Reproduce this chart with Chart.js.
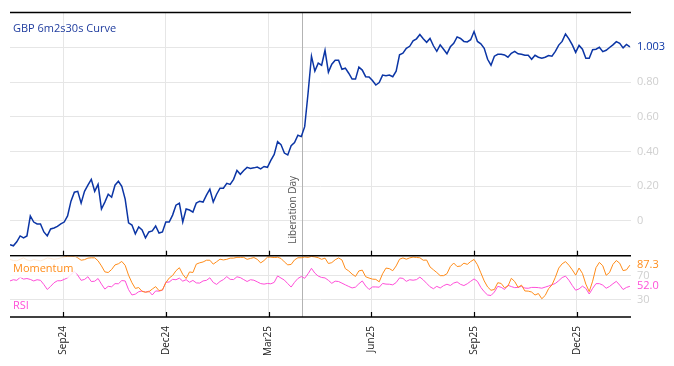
<!DOCTYPE html>
<html><head><meta charset="utf-8">
<script src="https://cdn.jsdelivr.net/npm/chart.js@4/dist/chart.umd.min.js"></script>
<style>html,body{margin:0;padding:0;background:#fff}#wrap{width:674px;height:366px}</style>
</head><body><div id="wrap"><canvas id="c" width="674" height="366"></canvas></div>
<script>
// ---- data ----
const START_DATE = '2024-07-17';
const STEP_DAYS = 3;
const seriesNames = ['GBP 6m2s30s Curve', 'Momentum', 'RSI'];
const curve = [
-0.137,-0.143,-0.120,-0.086,-0.097,-0.086,0.029,-0.006,-0.017,-0.017,
-0.063,-0.086,-0.046,-0.040,-0.031,-0.017,-0.006,0.029,0.114,0.166,
0.171,0.103,0.171,0.206,0.240,0.171,0.211,0.069,0.109,0.154,
0.137,0.206,0.229,0.200,0.126,-0.011,-0.023,-0.074,-0.034,-0.051,
-0.097,-0.063,-0.057,-0.029,-0.069,-0.063,-0.006,-0.006,0.034,0.091,
0.103,-0.006,0.069,0.063,0.051,0.103,0.114,0.109,0.149,0.183,
0.109,0.154,0.189,0.189,0.217,0.211,0.240,0.291,0.269,0.291,
0.309,0.303,0.306,0.311,0.300,0.314,0.309,0.349,0.383,0.457,
0.440,0.391,0.380,0.433,0.451,0.494,0.486,0.543,0.737,0.949,
0.863,0.909,0.897,0.983,0.857,0.903,0.926,0.926,0.874,0.880,
0.851,0.817,0.817,0.886,0.869,0.831,0.829,0.809,0.783,0.797,
0.840,0.837,0.840,0.831,0.863,0.957,0.966,0.994,1.006,1.037,
1.049,1.074,1.049,1.029,1.051,1.009,0.977,1.014,0.989,0.963,
1.003,1.023,1.060,1.051,1.034,1.031,1.044,1.091,1.034,1.020,
0.994,0.931,0.897,0.949,0.960,0.960,0.956,0.943,0.966,0.977,
0.963,0.960,0.954,0.954,0.931,0.954,0.943,0.937,0.943,0.953,
0.949,0.977,1.013,1.034,1.077,1.049,1.014,0.971,1.011,0.989,
0.937,0.937,0.986,0.989,1.000,0.975,0.983,0.999,1.014,1.033,
1.023,0.997,1.017,1.003];
const momentum = [
96.8,95,94.5,97,99.6,96,94.5,96.5,95.5,94.5,
96.5,99.3,98.5,97,98,99.4,101,102,102,101.5,
99.5,95.5,96.5,99,99.5,99.5,94.5,86,76.1,75,
80,87.7,89.6,93.5,87,70.5,58,48.5,50,43.5,
42.3,43,47.4,51.5,44.8,46,58,65.8,70,78,
83,72,65,76,75,89,91.2,92.6,95.5,95.5,
89,93,97.2,96,97,99,99,100.3,100.3,100.3,
97,98.5,100,97,91,95,100.6,100.6,100,100.4,
98.5,92.7,87.8,88.5,96,99.6,99.6,100.9,100.2,101.8,
101,99.7,97,99,90,91.5,96.3,99.3,96,81.5,
77.7,72.3,68.5,77.7,79,68,65.8,64,63.6,59.5,
73,82.4,81.5,78,86,97.2,99.3,97.2,99.4,100.7,
100.1,99.6,95.5,95.8,84.3,79.6,75,69.8,69.8,73,
85,90.8,85,85.8,90.6,88.6,93.3,96.8,88,74.5,
61,51,45.4,46.8,58,56.8,49.6,52.3,65.4,60,
50.3,54,44.3,44,42.5,37.5,40,31.3,36.8,48,
54.3,67,82.4,89.5,93.2,87.2,79.5,70.7,82.5,73.5,
55.7,43.2,60.5,83.1,91.9,86.3,70.4,75,88.5,95,
90.5,78.2,79.5,87.3];
const rsi = [
61,63,62,67,64,65,63.5,61,63,62,
55,46.8,52,58,61.3,61.3,63.5,66.3,71.5,77,
70.5,62,63.5,68,60,60.5,65,55.7,47.4,52,
51.3,56.5,56.3,61.6,61,46.5,37.6,39,43,44.2,
42.2,44,37.6,44.3,44,45.6,58.8,59.2,63.6,63,
65.6,60.6,63.1,58.8,61.9,57.7,57.4,61,62,66.2,
58.5,55.2,60.1,63.2,68.2,63.6,63.3,67.9,66.5,63.2,
60,63,62.2,59.5,56.6,55.7,56.8,56.2,58.6,69.3,
65.8,62.4,56.5,50.8,58.7,65.1,68.3,65.4,73,82,
74,69,66.8,66,62,57,60.6,60,57.3,54.5,
51.8,49.3,50.7,56.3,61,52.6,46.8,51,51,50.5,
56.8,55.7,55.5,54.5,58.3,66,65.2,60.3,63,62.2,
63.2,67.3,62.8,57,51.3,48,52,49.2,53.1,55.5,
53.4,57.5,59.3,55.3,53.3,56.3,60.4,64.3,60.3,50.2,
43,37.6,36.7,42.5,52,50.4,46.8,53.8,51.6,49.8,
50.3,52,49.1,48.8,50.2,50.2,49.8,48.9,50.7,52.5,
54.6,56.8,61.4,66.6,69,62.2,53.4,45.5,47.7,52.3,
48.4,39.2,48.5,56.5,56.5,54,48.8,51.8,56.3,60.3,
54,46.7,50.2,52.0];
const tickDates = ['2024-09-02','2024-12-02','2025-03-03','2025-06-02','2025-09-01','2025-12-01'];
const tickLabels = ['Sep24','Dec24','Mar25','Jun25','Sep25','Dec25'];
const curveTicks = [0, 0.2, 0.4, 0.6, 0.8, 1.0];
const oscTicks = [30, 70];
const EVENT_DATE = '2025-04-02';
const EVENT_LABEL = 'Liberation Day';

// ---- styles ----
const BLUE = '#0b35a5', ORANGE = '#ff8c1a', PINK = '#ff4fd8';
const FONT = '"Open Sans", "Liberation Sans", sans-serif';

function dayOf(d){ return (Date.parse(d) - Date.parse(START_DATE)) / 86400000; }
const pts = arr => arr.map((v, i) => ({x: i * STEP_DAYS, y: v}));
const tickDays = tickDates.map(dayOf);

const overlay = {
  id: 'overlay',
  beforeDatasetsDraw(chart){
    const {ctx, chartArea: a, scales: {x, y}} = chart;
    const ex = Math.round(x.getPixelForValue(dayOf(EVENT_DATE))) + 0.5;
    ctx.save();
    ctx.strokeStyle = '#b3b3b3'; ctx.lineWidth = 1;
    ctx.beginPath(); ctx.moveTo(ex, a.top); ctx.lineTo(ex, a.bottom); ctx.stroke();
    ctx.translate(ex - 7, y.bottom - 12);
    ctx.rotate(-Math.PI / 2);
    ctx.fillStyle = '#555'; ctx.font = '10px ' + FONT;
    ctx.textAlign = 'left'; ctx.textBaseline = 'alphabetic';
    ctx.fillText(EVENT_LABEL, 0, 0);
    ctx.restore();
  },
  afterDatasetsDraw(chart){
    const {ctx, chartArea: a, scales: {x, y, y2}} = chart;
    ctx.save();
    // panel borders
    ctx.strokeStyle = '#000'; ctx.lineWidth = 1.5;
    [a.top, y.bottom, a.bottom].forEach(yy => {
      ctx.beginPath(); ctx.moveTo(a.left, yy); ctx.lineTo(a.right, yy); ctx.stroke();
    });
    // tick marks
    ctx.lineWidth = 1.2;
    tickDays.forEach(d => {
      const px = Math.round(x.getPixelForValue(d)) + 0.5;
      [y.bottom, a.bottom].forEach(yy => {
        ctx.beginPath(); ctx.moveTo(px, yy - 5); ctx.lineTo(px, yy); ctx.stroke();
      });
    });
    // series labels
    ctx.font = '11px ' + FONT; ctx.textAlign = 'left'; ctx.textBaseline = 'middle';
    ctx.fillStyle = '#1f3c9e';
    ctx.fillText(seriesNames[0], a.left + 3, a.top + 16);
    const mw = ctx.measureText(seriesNames[1]).width;
    ctx.fillStyle = 'rgba(255,255,255,0.82)';
    ctx.fillRect(a.left, y.bottom + 1, mw + 6, 21);
    ctx.fillStyle = ORANGE;
    ctx.fillText(seriesNames[1], a.left + 3, y.bottom + 13);
    ctx.fillStyle = PINK;
    ctx.fillText(seriesNames[2], a.left + 3, a.bottom - 11);
    // last value labels
    const lx = a.right + 6;
    const lc = curve[curve.length - 1], lm = momentum[momentum.length - 1], lr = rsi[rsi.length - 1];
    ctx.fillStyle = BLUE; ctx.fillText(lc.toFixed(3), lx, y.getPixelForValue(lc));
    ctx.fillStyle = ORANGE; ctx.fillText(lm.toFixed(1), lx, y2.getPixelForValue(lm));
    ctx.fillStyle = PINK; ctx.fillText(lr.toFixed(1), lx, y2.getPixelForValue(lr));
    ctx.restore();
  }
};

new Chart(document.getElementById('c'), {
  type: 'line',
  data: {
    datasets: [
      {label: seriesNames[0], data: pts(curve), yAxisID: 'y', borderColor: BLUE, borderWidth: 1.5, pointRadius: 0, tension: 0},
      {label: seriesNames[1], data: pts(momentum), yAxisID: 'y2', borderColor: ORANGE, borderWidth: 1, pointRadius: 0, tension: 0},
      {label: seriesNames[2], data: pts(rsi), yAxisID: 'y2', borderColor: PINK, borderWidth: 1, pointRadius: 0, tension: 0}
    ]
  },
  options: {
    responsive: false, animation: false, devicePixelRatio: 1,
    layout: {padding: {top: 9, left: 10, right: 0, bottom: 0}},
    plugins: {legend: {display: false}, tooltip: {enabled: false}},
    scales: {
      x: {
        type: 'linear', position: 'bottom', min: 0, max: 550,
        afterBuildTicks: s => { s.ticks = tickDays.map(v => ({value: v})); },
        afterFit: s => { s.height = 49; },
        ticks: {autoSkip: false, minRotation: 90, maxRotation: 90, padding: 9, color: '#222',
                font: {family: FONT, size: 10}, callback: (v, i) => tickLabels[i]},
        grid: {color: '#e6e6e6', drawTicks: false},
        border: {display: false}
      },
      y: {
        type: 'linear', position: 'right', stack: 'panels', stackWeight: 246,
        min: -0.2, max: 1.2,
        afterBuildTicks: s => { s.ticks = curveTicks.map(v => ({value: v})); },
        afterFit: s => { s.width = 43; },
        ticks: {padding: 6, color: '#cfcfcf', font: {family: FONT, size: 11},
                callback: v => Math.abs(v - curve[curve.length - 1]) < 0.05 ? '' : (v === 0 ? '0' : v.toFixed(2))},
        grid: {color: '#e6e6e6', drawTicks: false},
        border: {display: false}
      },
      y2: {
        type: 'linear', position: 'right', stack: 'panels', stackWeight: 62,
        min: 0.9, max: 103,
        afterBuildTicks: s => { s.ticks = oscTicks.map(v => ({value: v})); },
        afterFit: s => { s.width = 43; },
        ticks: {padding: 6, color: '#cfcfcf', font: {family: FONT, size: 11}, callback: v => String(v)},
        grid: {color: '#e6e6e6', drawTicks: false},
        border: {display: false}
      }
    }
  },
  plugins: [overlay]
});
</script></body></html>
